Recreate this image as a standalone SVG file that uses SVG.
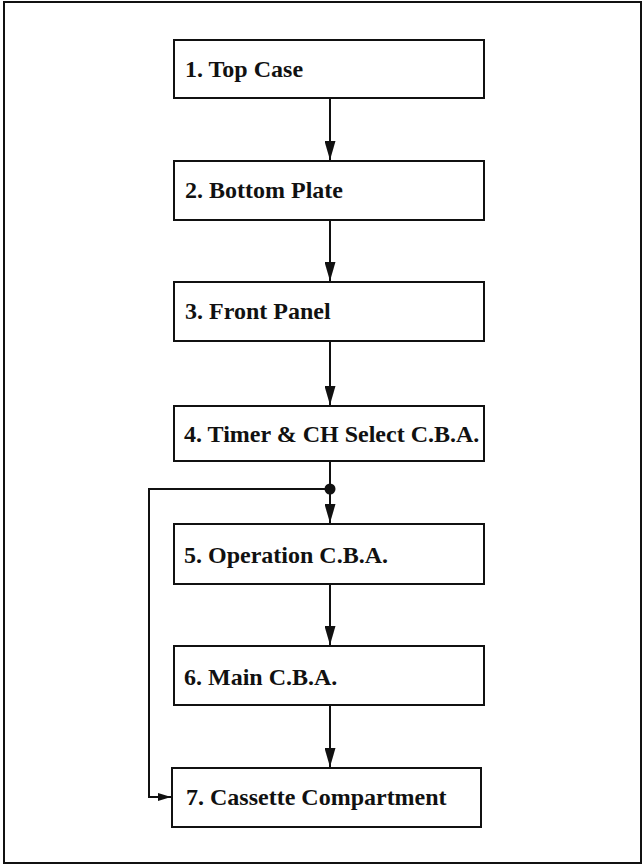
<svg xmlns="http://www.w3.org/2000/svg" width="643" height="865" viewBox="0 0 643 865">
<style>
.box{fill:#fff;stroke:#111;stroke-width:2}
.lbl{font-family:"Liberation Serif","Times New Roman",serif;font-weight:bold;font-size:24px;fill:#111}
.ln{fill:none;stroke:#111;stroke-width:2}
</style>
<defs>
<marker id="ah" viewBox="0 0 19 11" refX="19" refY="5.5" markerWidth="19" markerHeight="11" markerUnits="userSpaceOnUse" orient="auto">
<path d="M0,0 L19,5.5 L0,11 Z" fill="#111"/>
</marker>
<marker id="ahs" viewBox="0 0 13 8" refX="13" refY="4" markerWidth="13" markerHeight="8" markerUnits="userSpaceOnUse" orient="auto">
<path d="M0,0 L13,4 L0,8 Z" fill="#111"/>
</marker>
</defs>
<rect x="4" y="2" width="637" height="861" fill="#fff" stroke="#111" stroke-width="2"/>
<g id="connectors">
<path class="ln" d="M330,99 V160" marker-end="url(#ah)"/>
<path class="ln" d="M330,221 V281" marker-end="url(#ah)"/>
<path class="ln" d="M330,342 V405" marker-end="url(#ah)"/>
<path class="ln" d="M330,462 V523" marker-end="url(#ah)"/>
<path class="ln" d="M330,585 V645" marker-end="url(#ah)"/>
<path class="ln" d="M330,706 V767" marker-end="url(#ah)"/>
<path class="ln" d="M330,489 H149 V797 H171" marker-end="url(#ahs)"/>
<circle cx="330" cy="489" r="5.5" fill="#111"/>
</g>
<g id="n1"><rect class="box" x="174" y="40" width="310" height="58"/><text class="lbl" x="185" y="77">1. Top Case</text></g>
<g id="n2"><rect class="box" x="174" y="161" width="310" height="59"/><text class="lbl" x="185" y="198">2. Bottom Plate</text></g>
<g id="n3"><rect class="box" x="174" y="282" width="310" height="59"/><text class="lbl" x="185" y="319">3. Front Panel</text></g>
<g id="n4"><rect class="box" x="174" y="406" width="310" height="55"/><text class="lbl" x="184" y="442">4. Timer &amp; CH Select C.B.A.</text></g>
<g id="n5"><rect class="box" x="174" y="524" width="310" height="60"/><text class="lbl" x="184" y="563">5. Operation C.B.A.</text></g>
<g id="n6"><rect class="box" x="174" y="646" width="310" height="59"/><text class="lbl" x="184" y="685">6. Main C.B.A.</text></g>
<g id="n7"><rect class="box" x="172" y="768" width="309" height="59"/><text class="lbl" x="186" y="805">7. Cassette Compartment</text></g>
</svg>
